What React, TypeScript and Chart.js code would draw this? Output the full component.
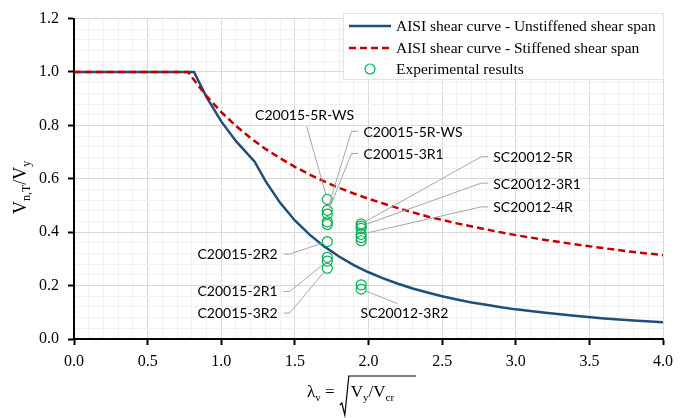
import React, { useEffect, useRef } from 'react';
import { Chart, registerables } from 'chart.js';

Chart.register(...registerables);

// AISI shear curve - unstiffened shear span
const unstiffLambda = [0, 0.815, 0.9, 1.0, 1.1, 1.227, 1.3, 1.4, 1.5, 1.6, 1.7, 1.8, 1.9, 2.0, 2.1, 2.2, 2.3, 2.4, 2.5, 2.6, 2.7, 2.8, 2.9, 3.0, 3.2, 3.4, 3.6, 3.8, 4.0];
const unstiffValues = [1.0, 1.0, 0.906, 0.815, 0.741, 0.664, 0.592, 0.51, 0.444, 0.391, 0.346, 0.309, 0.277, 0.25, 0.227, 0.207, 0.189, 0.174, 0.16, 0.148, 0.137, 0.128, 0.119, 0.111, 0.098, 0.087, 0.077, 0.069, 0.063];

// AISI shear curve - stiffened shear span
const stiffLambda = [0, 0.776, 0.8, 0.9, 1.0, 1.1, 1.2, 1.3, 1.4, 1.5, 1.6, 1.7, 1.8, 1.9, 2.0, 2.2, 2.4, 2.6, 2.8, 3.0, 3.2, 3.4, 3.6, 3.8, 4.0];
const stiffValues = [1.0, 1.0, 0.981, 0.91, 0.85, 0.798, 0.752, 0.712, 0.677, 0.645, 0.616, 0.59, 0.566, 0.545, 0.525, 0.49, 0.459, 0.433, 0.41, 0.389, 0.371, 0.355, 0.34, 0.326, 0.314];

// Experimental results
const expLambda = [1.72, 1.72, 1.72, 1.72, 1.72, 1.72, 1.72, 1.72, 1.72, 1.95, 1.95, 1.95, 1.95, 1.95, 1.95, 1.95, 1.95];
const expValues = [0.523, 0.482, 0.468, 0.439, 0.429, 0.365, 0.306, 0.292, 0.265, 0.431, 0.423, 0.414, 0.392, 0.38, 0.368, 0.203, 0.187];

// Data labels for specimens
const labelTexts = ['C20015-5R-WS', 'C20015-5R-WS', 'C20015-3R1', 'C20015-2R2', 'C20015-2R1', 'C20015-3R2', 'SC20012-5R', 'SC20012-3R1', 'SC20012-4R', 'SC20012-3R2'];
const labelTargets = [0, 1, 2, 5, 7, 8, 9, 10, 12, 16];
const labelSides = ['above', 'right', 'right', 'left', 'left', 'left', 'right', 'right', 'right', 'below'];
const labelX = [1.566, 1.966, 1.966, 1.383, 1.383, 1.383, 2.847, 2.847, 2.847, 2.244];
const labelY = [0.838, 0.774, 0.691, 0.318, 0.178, 0.097, 0.679, 0.58, 0.491, 0.095];

const legendLabels = ['AISI shear curve - Unstiffened shear span', 'AISI shear curve - Stiffened shear span', 'Experimental results'];

const xTicks = [0, 0.5, 1.0, 1.5, 2.0, 2.5, 3.0, 3.5, 4.0];
const yTicks = [0, 0.2, 0.4, 0.6, 0.8, 1.0, 1.2];

const BLUE = '#1F4E79';
const RED = '#C00000';
const GREEN = '#00B050';
const SERIF = '"Liberation Serif", "Times New Roman", serif';
const SANS = 'Lato, "Open Sans", sans-serif';

const isMajor = (v: number, step: number) => Math.abs(v / step - Math.round(v / step)) < 1e-6;

const annotationPlugin = {
  id: 'annot',
  afterDatasetsDraw(chart: any) {
    const { ctx } = chart;
    const xs = chart.scales.x;
    const ys = chart.scales.y;
    ctx.save();
    ctx.font = '14px ' + SANS;
    ctx.fillStyle = '#000';
    ctx.strokeStyle = '#A6A6A6';
    ctx.lineWidth = 1;
    labelTexts.forEach((t, i) => {
      const px = xs.getPixelForValue(labelX[i]);
      const py = ys.getPixelForValue(labelY[i]);
      const ti = labelTargets[i];
      const gx = xs.getPixelForValue(expLambda[ti]);
      const gy = ys.getPixelForValue(expValues[ti]);
      const side = labelSides[i];
      ctx.textBaseline = 'middle';
      let pts: number[][] = [];
      if (side === 'right') {
        ctx.textAlign = 'left';
        pts = [[px - 5, py - 1], [px - 12, py - 1]];
      } else if (side === 'left') {
        ctx.textAlign = 'right';
        pts = [[px + 6, py], [px + 12, py]];
      } else if (side === 'above') {
        ctx.textAlign = 'center';
        pts = [[px + 2, py + 11]];
      } else {
        ctx.textAlign = 'center';
        pts = [[px - 7, py - 10]];
      }
      ctx.fillText(t, px, py);
      const last = pts[pts.length - 1];
      const dx = gx - last[0];
      const dy = gy - last[1];
      const d = Math.hypot(dx, dy) || 1;
      const end = [gx - (dx / d) * 5, gy - (dy / d) * 5];
      ctx.beginPath();
      ctx.moveTo(pts[0][0], pts[0][1]);
      for (let k = 1; k < pts.length; k++) ctx.lineTo(pts[k][0], pts[k][1]);
      ctx.lineTo(end[0], end[1]);
      ctx.stroke();
    });
    ctx.restore();
  },
};

const decorPlugin = {
  id: 'decor',
  afterDraw(chart: any) {
    const { ctx, chartArea } = chart;
    ctx.save();
    // Legend box
    const lx = 343, ly = 13, lw = chartArea.right + 1 - 343, lh = 67;
    ctx.fillStyle = '#FFFFFF';
    ctx.fillRect(lx, ly, lw, lh);
    ctx.strokeStyle = '#E3E3E3';
    ctx.lineWidth = 1;
    ctx.strokeRect(lx + 0.5, ly + 0.5, lw - 1, lh - 1);
    const rows = [26, 48, 69];
    ctx.font = '15.5px ' + SERIF;
    ctx.fillStyle = '#000';
    ctx.textAlign = 'left';
    ctx.textBaseline = 'middle';
    // row 1
    ctx.strokeStyle = BLUE;
    ctx.lineWidth = 2.5;
    ctx.setLineDash([]);
    ctx.beginPath();
    ctx.moveTo(349, rows[0]);
    ctx.lineTo(391, rows[0]);
    ctx.stroke();
    // row 2
    ctx.strokeStyle = RED;
    ctx.setLineDash([7, 4]);
    ctx.beginPath();
    ctx.moveTo(349, rows[1]);
    ctx.lineTo(391, rows[1]);
    ctx.stroke();
    ctx.setLineDash([]);
    // row 3
    ctx.strokeStyle = GREEN;
    ctx.lineWidth = 1.2;
    ctx.beginPath();
    ctx.arc(370, rows[2], 5, 0, Math.PI * 2);
    ctx.stroke();
    legendLabels.forEach((t, i) => ctx.fillText(t, 396, rows[i] + 1));

    // Y axis title: V_{n,T}/V_y
    ctx.save();
    ctx.translate(26, 214);
    ctx.rotate(-Math.PI / 2);
    ctx.textBaseline = 'alphabetic';
    ctx.textAlign = 'left';
    let cx = 0;
    const part = (s: string, size: number, dy: number) => {
      ctx.font = size + 'px ' + SERIF;
      ctx.fillText(s, cx, dy);
      cx += ctx.measureText(s).width;
    };
    part('V', 18, 0);
    part('n,T', 12, 4);
    part('/V', 18, 0);
    part('y', 12, 4);
    ctx.restore();

    // X axis title: λ_v = sqrt(V_y / V_cr)
    ctx.textBaseline = 'alphabetic';
    ctx.textAlign = 'left';
    let tx = 307;
    const base = 397;
    const xpart = (s: string, size: number, dy: number) => {
      ctx.font = size + 'px ' + SERIF;
      ctx.fillText(s, tx, base + dy);
      tx += ctx.measureText(s).width;
    };
    xpart('λ', 17, 0);
    xpart('v', 11, 4);
    xpart(' = ', 17, 0);
    const rx = tx + 1;
    ctx.strokeStyle = '#000';
    ctx.lineWidth = 1.2;
    ctx.beginPath();
    ctx.moveTo(rx, 405);
    ctx.lineTo(rx + 2, 403);
    ctx.lineTo(rx + 5, 415);
    ctx.lineTo(rx + 9, 376);
    ctx.lineTo(416, 376);
    ctx.stroke();
    tx = rx + 11;
    xpart('V', 17, 0);
    xpart('y', 11, 4);
    xpart('/V', 17, 0);
    xpart('cr', 11, 4);
    ctx.restore();
  },
};

export default function App() {
  const ref = useRef<HTMLCanvasElement | null>(null);
  useEffect(() => {
    if (!ref.current) return;
    const chart = new Chart(ref.current, {
      type: 'scatter',
      data: {
        datasets: [
          {
            label: legendLabels[0],
            data: unstiffLambda.map((x, i) => ({ x, y: unstiffValues[i] })),
            showLine: true,
            borderColor: BLUE,
            backgroundColor: BLUE,
            borderWidth: 2.5,
            pointRadius: 0,
            tension: 0,
            order: 3,
          },
          {
            label: legendLabels[1],
            data: stiffLambda.map((x, i) => ({ x, y: stiffValues[i] })),
            showLine: true,
            borderColor: RED,
            backgroundColor: RED,
            borderWidth: 2.5,
            borderDash: [7, 4],
            pointRadius: 0,
            tension: 0,
            order: 2,
          },
          {
            label: legendLabels[2],
            data: expLambda.map((x, i) => ({ x, y: expValues[i] })),
            showLine: false,
            borderColor: GREEN,
            backgroundColor: 'rgba(0,0,0,0)',
            borderWidth: 1.2,
            pointRadius: 5,
            pointStyle: 'circle',
            order: 1,
          },
        ],
      },
      options: {
        responsive: false,
        animation: false,
        layout: { autoPadding: false, padding: { top: 14, right: 16, left: 0, bottom: 0 } },
        plugins: { legend: { display: false }, tooltip: { enabled: false } },
        scales: {
          x: {
            type: 'linear',
            min: xTicks[0],
            max: xTicks[xTicks.length - 1],
            afterFit: (s: any) => { s.height = 79; },
            border: { display: true, color: '#000', width: 2 },
            grid: {
              color: (c: any) => (isMajor(c.tick.value, 0.5) ? '#D9D9D9' : '#F0F0F0'),
              tickColor: (c: any) => (isMajor(c.tick.value, 0.5) ? '#000' : 'rgba(0,0,0,0)'),
              tickLength: 6,
              tickWidth: 2,
              lineWidth: 1,
            },
            ticks: {
              stepSize: 0.1,
              maxTicksLimit: 100,
              autoSkip: false,
              maxRotation: 0,
              padding: 7,
              color: '#000',
              font: { family: SERIF, size: 16 },
              callback: (v: any) => (isMajor(Number(v), 0.5) ? Number(v).toFixed(1) : ''),
            },
          },
          y: {
            type: 'linear',
            min: yTicks[0],
            max: yTicks[yTicks.length - 1],
            afterFit: (s: any) => { s.width = 74; },
            border: { display: true, color: '#000', width: 2 },
            grid: {
              color: (c: any) => (isMajor(c.tick.value, 0.2) ? '#D9D9D9' : '#F0F0F0'),
              tickColor: (c: any) => (isMajor(c.tick.value, 0.2) ? '#000' : 'rgba(0,0,0,0)'),
              tickLength: 6,
              tickWidth: 2,
              lineWidth: 1,
            },
            ticks: {
              stepSize: 0.04,
              maxTicksLimit: 100,
              autoSkip: false,
              padding: 9,
              color: '#000',
              font: { family: SERIF, size: 16 },
              callback: (v: any) => (isMajor(Number(v), 0.2) ? Number(v).toFixed(1) : ''),
            },
          },
        },
      },
      plugins: [annotationPlugin, decorPlugin],
    });
    return () => chart.destroy();
  }, []);
  return (
    <div style={{ position: 'fixed', left: 0, top: 0, width: 680, height: 418, background: '#fff' }}>
      <canvas ref={ref} width={680} height={418} />
    </div>
  );
}
